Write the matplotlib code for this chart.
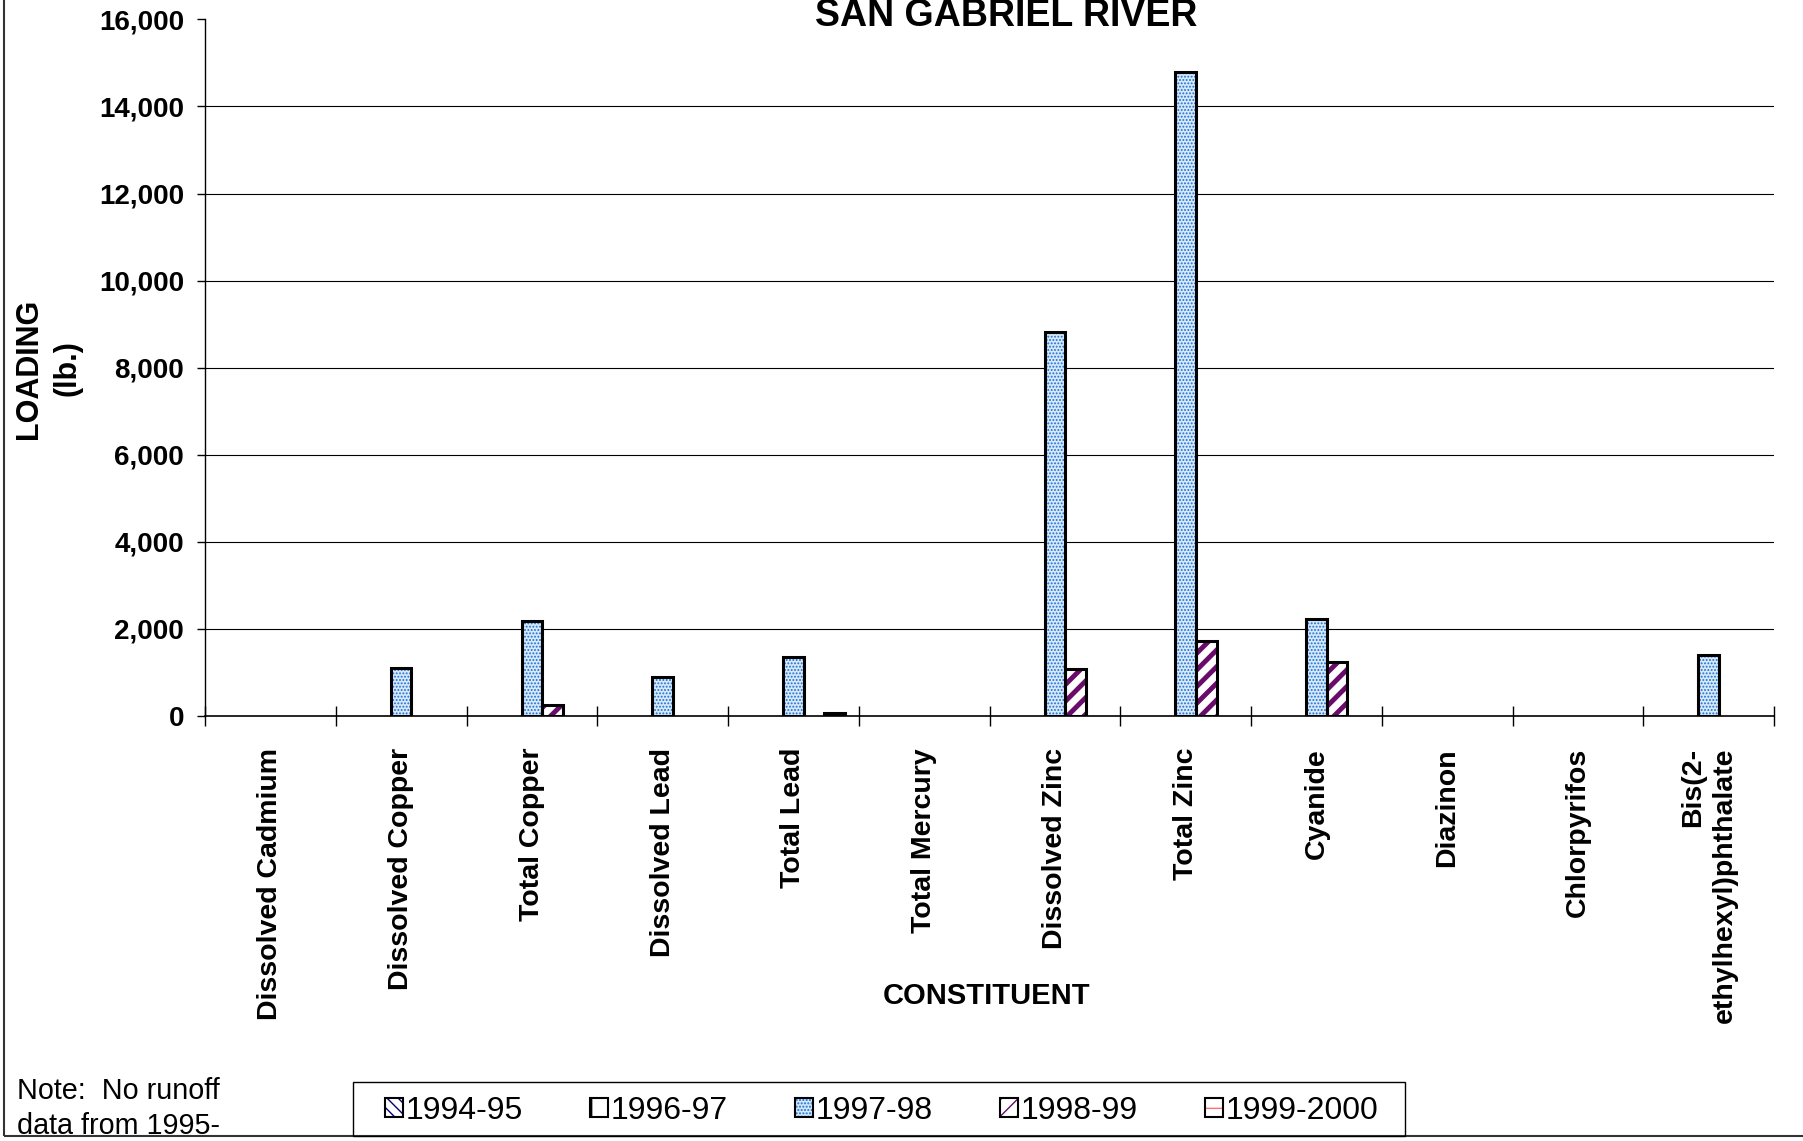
import numpy as np
import matplotlib
matplotlib.use("Agg")
import matplotlib.pyplot as plt
from matplotlib.patches import Patch, Rectangle
from matplotlib.ticker import FuncFormatter

plt.rcParams['font.family'] = ['Liberation Sans', 'DejaVu Sans']

categories = ["Dissolved Cadmium", "Dissolved Copper", "Total Copper", "Dissolved Lead",
	"Total Lead", "Total Mercury", "Dissolved Zinc", "Total Zinc", "Cyanide",
	"Diazinon", "Chlorpyrifos", "Bis(2-\nethylhexyl)phthalate"]
seasons = ["1994-95", "1996-97", "1997-98", "1998-99", "1999-2000"]

# loadings in lb. (0 = nothing plotted)
load_9495 = [0, 0, 0, 0, 0, 0, 0, 0, 0, 0, 0, 0]
load_9697 = [0, 0, 0, 0, 0, 0, 0, 0, 0, 0, 0, 0]
load_9798 = [0, 1110, 2175, 905, 1345, 0, 8820, 14800, 2230, 0, 0, 1400]
load_9899 = [0, 0, 255, 0, 0, 0, 1075, 1725, 1245, 0, 0, 0]
load_9900 = [0, 0, 0, 0, 75, 0, 0, 0, 0, 0, 0, 0]

# face, hatch, hatch colour, hatch width
styles = [
	('white', '\\\\\\', '#000080', 1.0),
	('white', '|', 'black', 1.0),
	('#d6e8fa', '.....', '#1a6fd0', 0.9),
	('white', '//', '#6a0a6a', 3.5),
	('white', '-', '#ff7070', 4.0),
]


def hatched_bar(ax, x, h, w, style):
	face, hatch, hcol, hlw = style
	bars = ax.bar(x, h, w, color=face, hatch=hatch, edgecolor=hcol, linewidth=0, zorder=3)
	for b in bars:
		if hasattr(b, 'set_hatch_linewidth'):
			b.set_hatch_linewidth(hlw)
	ax.bar(x, h, w, fill=False, edgecolor='black', linewidth=2.2, zorder=4)


def main():
	fig = plt.figure(figsize=(18.03, 11.41), dpi=100)
	ax = fig.add_axes([0.1137, 0.3725, 0.8703, 0.6105])

	series = [load_9495, load_9697, load_9798, load_9899, load_9900]
	x = np.arange(len(categories))
	w = 0.158
	for i, vals in enumerate(series):
		vals = np.array(vals, dtype=float)
		keep = vals > 0
		if keep.any():
			hatched_bar(ax, x[keep] + (i - 2) * w, vals[keep], w, styles[i])

	ax.set_xlim(-0.5, len(categories) - 0.5)
	ax.set_ylim(0, 16000)
	ax.set_yticks(range(0, 16001, 2000))
	ax.yaxis.set_major_formatter(FuncFormatter(lambda v, p: f"{v:,.0f}"))
	ax.tick_params(axis='y', direction='out', length=6, width=1, labelsize=20, pad=9)
	for t in ax.get_yticklabels():
		t.set_fontweight('bold')
	ax.yaxis.grid(True, color='black', linewidth=0.8, zorder=0)
	ax.set_axisbelow(True)
	gl = ax.yaxis.get_gridlines()
	gl[0].set_visible(False)
	gl[-1].set_visible(False)

	ax.set_xticks(x)
	ax.set_xticklabels(categories, rotation=90, fontsize=20.5, fontweight='bold',
		ha='center', va='top', multialignment='right', linespacing=1.3)
	ax.tick_params(axis='x', which='major', length=0, pad=23)
	ax.set_xticks(np.arange(-0.5, len(categories), 1), minor=True)
	ax.tick_params(axis='x', which='minor', direction='inout', length=14, width=1)

	for s in ['top', 'right']:
		ax.spines[s].set_visible(False)
	ax.spines['left'].set_linewidth(1)
	ax.spines['bottom'].set_linewidth(1.2)

	fig.text(0.558, 0.977, 'SAN GABRIEL RIVER', ha='center', va='baseline',
		fontsize=27, fontweight='bold')
	fig.text(0.0267, 0.677, 'LOADING\n(lb.)', rotation=90, ha='center', va='center',
		multialignment='center', fontsize=22, fontweight='bold', linespacing=1.35)
	fig.text(0.547, 0.1275, 'CONSTITUENT', ha='center', va='center',
		fontsize=21, fontweight='bold')

	bottom = 1 - 1136 / 1141
	border = Rectangle((0.002, bottom), 1.2, 1.2, transform=fig.transFigure,
		fill=False, edgecolor='#333333', linewidth=1.5)
	fig.add_artist(border)
	note = fig.text(0.0096, 0.0565, 'Note:  No runoff\ndata from 1995-', ha='left', va='top',
		fontsize=20.7, linespacing=1.32)
	note.set_clip_path(border)

	# legend box drawn separately so the side padding can be wider
	fig.add_artist(Rectangle((353 / 1803, bottom), (1405 - 353) / 1803, 1 - 1082 / 1141 - bottom,
		transform=fig.transFigure, fill=False, edgecolor='black', linewidth=1))
	handles = []
	for face, hatch, hcol, hlw in styles:
		p1 = Patch(facecolor=face, hatch=hatch, edgecolor=hcol, linewidth=0)
		p2 = Patch(fill=False, edgecolor='black', linewidth=1.5)
		handles.append((p1, p2))
	fig.legend(handles, seasons, loc='center left', bbox_to_anchor=(385 / 1803, 1 - 1111 / 1141),
		ncol=5, fontsize=23, frameon=False, borderpad=0, borderaxespad=0,
		handlelength=0.55, handleheight=0.55, handletextpad=0.1, columnspacing=2.1)

	fig.savefig('out.png', dpi=100)


if __name__ == '__main__':
	main()
